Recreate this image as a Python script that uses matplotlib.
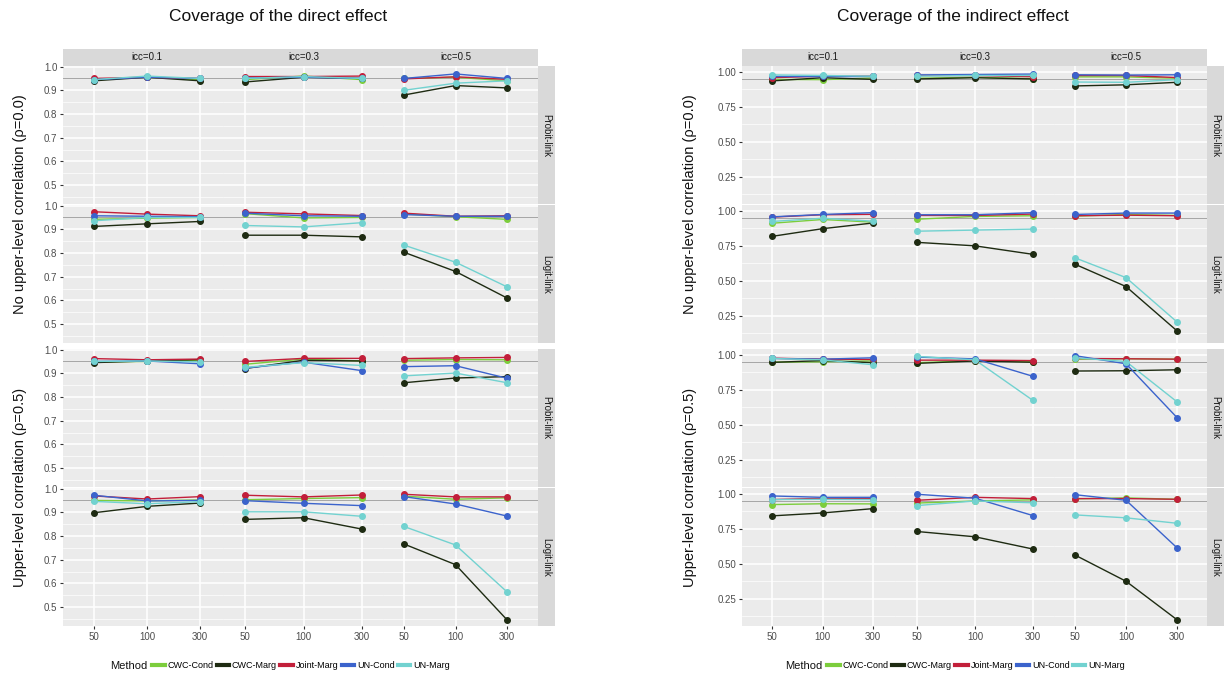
import matplotlib.pyplot as plt
from matplotlib.lines import Line2D
from matplotlib.ticker import FixedLocator

plt.rcParams['font.family'] = ['Liberation Sans', 'DejaVu Sans']

W, H = 1228, 681

methods = ['CWC-Cond', 'CWC-Marg', 'Joint-Marg', 'UN-Cond', 'UN-Marg']
method_colors = ['#7CCD3C', '#1E2B12', '#C21F3A', '#3B63CC', '#72D2D0']
sample_sizes = ['50', '100', '300']
icc_labels = ['icc=0.1', 'icc=0.3', 'icc=0.5']
link_labels = ['Probit-link', 'Logit-link']
rho_labels = ['No upper-level correlation (\u03c1=0.0)', 'Upper-level correlation (\u03c1=0.5)']

# coverage per method: icc=0.1 (n=50,100,300), icc=0.3 (n=50,100,300), icc=0.5 (n=50,100,300)
direct_rho0_probit = {
    'CWC-Cond':   [0.945, 0.955, 0.945, 0.945, 0.960, 0.945, 0.950, 0.955, 0.940],
    'CWC-Marg':   [0.940, 0.955, 0.940, 0.935, 0.955, 0.950, 0.880, 0.920, 0.910],
    'Joint-Marg': [0.950, 0.955, 0.950, 0.958, 0.958, 0.960, 0.948, 0.957, 0.946],
    'UN-Cond':    [0.945, 0.955, 0.950, 0.952, 0.955, 0.950, 0.950, 0.969, 0.950],
    'UN-Marg':    [0.945, 0.960, 0.950, 0.950, 0.958, 0.950, 0.900, 0.930, 0.940],
}
direct_rho0_logit = {
    'CWC-Cond':   [0.942, 0.947, 0.950, 0.966, 0.948, 0.950, 0.965, 0.953, 0.942],
    'CWC-Marg':   [0.912, 0.923, 0.933, 0.875, 0.875, 0.868, 0.803, 0.722, 0.610],
    'Joint-Marg': [0.974, 0.964, 0.957, 0.972, 0.965, 0.958, 0.968, 0.955, 0.957],
    'UN-Cond':    [0.957, 0.955, 0.953, 0.968, 0.957, 0.955, 0.962, 0.955, 0.955],
    'UN-Marg':    [0.936, 0.950, 0.950, 0.916, 0.910, 0.928, 0.833, 0.761, 0.657],
}
direct_rho5_probit = {
    'CWC-Cond':   [0.948, 0.950, 0.955, 0.938, 0.960, 0.952, 0.955, 0.958, 0.957],
    'CWC-Marg':   [0.945, 0.952, 0.958, 0.920, 0.955, 0.952, 0.860, 0.880, 0.886],
    'Joint-Marg': [0.962, 0.957, 0.960, 0.950, 0.963, 0.963, 0.962, 0.965, 0.967],
    'UN-Cond':    [0.950, 0.952, 0.940, 0.922, 0.947, 0.911, 0.928, 0.932, 0.879],
    'UN-Marg':    [0.950, 0.952, 0.948, 0.925, 0.945, 0.933, 0.889, 0.901, 0.860],
}
direct_rho5_logit = {
    'CWC-Cond':   [0.950, 0.948, 0.952, 0.953, 0.958, 0.962, 0.968, 0.955, 0.961],
    'CWC-Marg':   [0.898, 0.925, 0.939, 0.870, 0.877, 0.829, 0.766, 0.679, 0.446],
    'Joint-Marg': [0.969, 0.956, 0.966, 0.972, 0.965, 0.973, 0.976, 0.965, 0.965],
    'UN-Cond':    [0.972, 0.948, 0.950, 0.949, 0.938, 0.928, 0.966, 0.935, 0.884],
    'UN-Marg':    [0.946, 0.936, 0.945, 0.902, 0.902, 0.883, 0.840, 0.762, 0.564],
}
indirect_rho0_probit = {
    'CWC-Cond':   [0.947, 0.945, 0.957, 0.955, 0.962, 0.952, 0.965, 0.965, 0.955],
    'CWC-Marg':   [0.936, 0.959, 0.947, 0.950, 0.959, 0.950, 0.900, 0.908, 0.926],
    'Joint-Marg': [0.959, 0.970, 0.970, 0.975, 0.975, 0.966, 0.975, 0.975, 0.960],
    'UN-Cond':    [0.970, 0.970, 0.970, 0.979, 0.982, 0.985, 0.980, 0.978, 0.980],
    'UN-Marg':    [0.979, 0.975, 0.970, 0.970, 0.975, 0.975, 0.928, 0.926, 0.945],
}
indirect_rho0_logit = {
    'CWC-Cond':   [0.912, 0.939, 0.920, 0.941, 0.961, 0.966, 0.963, 0.975, 0.968],
    'CWC-Marg':   [0.818, 0.873, 0.914, 0.775, 0.750, 0.689, 0.618, 0.458, 0.140],
    'Joint-Marg': [0.956, 0.973, 0.976, 0.968, 0.968, 0.978, 0.966, 0.970, 0.966],
    'UN-Cond':    [0.958, 0.975, 0.988, 0.973, 0.973, 0.988, 0.975, 0.985, 0.985],
    'UN-Marg':    [0.925, 0.948, 0.927, 0.855, 0.863, 0.870, 0.664, 0.522, 0.204],
}
indirect_rho5_probit = {
    'CWC-Cond':   [0.949, 0.951, 0.958, 0.945, 0.958, 0.952, 0.970, 0.973, 0.970],
    'CWC-Marg':   [0.947, 0.960, 0.945, 0.940, 0.957, 0.948, 0.885, 0.887, 0.894],
    'Joint-Marg': [0.977, 0.970, 0.968, 0.963, 0.963, 0.960, 0.975, 0.973, 0.970],
    'UN-Cond':    [0.975, 0.970, 0.980, 0.985, 0.972, 0.847, 0.995, 0.937, 0.551],
    'UN-Marg':    [0.975, 0.965, 0.930, 0.990, 0.965, 0.674, 0.980, 0.953, 0.664],
}
indirect_rho5_logit = {
    'CWC-Cond':   [0.924, 0.930, 0.929, 0.935, 0.950, 0.958, 0.965, 0.972, 0.962],
    'CWC-Marg':   [0.843, 0.864, 0.895, 0.731, 0.693, 0.605, 0.562, 0.374, 0.098],
    'Joint-Marg': [0.960, 0.969, 0.967, 0.955, 0.976, 0.967, 0.967, 0.967, 0.962],
    'UN-Cond':    [0.986, 0.976, 0.976, 0.998, 0.970, 0.845, 0.995, 0.955, 0.614],
    'UN-Marg':    [0.960, 0.962, 0.960, 0.917, 0.950, 0.937, 0.850, 0.829, 0.790],
}

# layout in pixels
row_tops = [66, 205, 349, 488]
row_h = 138
strip_w = 17


def add_ax(fig, x0, x1, y0, y1):
    return fig.add_axes([x0 / W, 1 - y1 / H, (x1 - x0) / W, (y1 - y0) / H])


def draw_panel(fig, title, title_x, edges, pts, rows, ylim, major, minor, fmt, ylab_x, legend_x):
    fig.text(title_x / W, 1 - 17 / H, title, ha='center', va='center', fontsize=12.5, color='#111111')

    for c in range(3):
        p0, p2 = pts[c]
        u = (p2 - p0) / 2
        xlim = ((edges[c] - p0) / u, (edges[c + 1] - p0) / u)

        # top strips
        sax = add_ax(fig, edges[c], edges[c + 1], 49, 66)
        sax.set_facecolor('#D9D9D9')
        sax.set_xlim(xlim)
        sax.set_xticks([])
        sax.set_yticks([])
        for s in sax.spines.values():
            s.set_visible(False)
        sax.text(1, 0.5, icc_labels[c], transform=sax.get_xaxis_transform(),
                 ha='center', va='center', fontsize=7, color='#1A1A1A')

        for r, row in enumerate(rows):
            ax = add_ax(fig, edges[c], edges[c + 1], row_tops[r], row_tops[r] + row_h)
            ax.set_facecolor('#EBEBEB')
            ax.set_xlim(xlim)
            ax.set_ylim(ylim)
            for s in ax.spines.values():
                s.set_visible(False)
            ax.set_axisbelow(True)
            ax.set_xticks([0, 1, 2])
            ax.yaxis.set_major_locator(FixedLocator(major))
            ax.yaxis.set_minor_locator(FixedLocator(minor))
            ax.grid(which='major', color='white', lw=1.1)
            ax.grid(which='minor', axis='y', color='white', lw=0.5)
            ax.axhline(0.95, color='#A5A5A5', lw=0.7, zorder=1.5)

            for m, col in zip(methods, method_colors):
                vals = row[m][3 * c:3 * c + 3]
                ax.plot([0, 1, 2], vals, color=col, lw=1.0, zorder=3)
                ax.plot([0, 1, 2], vals, 'o', color=col, ms=4, zorder=4)

            ax.tick_params(axis='both', which='both', length=0)
            if c == 0:
                ax.set_yticklabels([fmt.format(v) for v in major])
                ax.tick_params(axis='y', which='major', length=2.5, color='#333333',
                               labelsize=7, labelcolor='#4D4D4D', pad=1.5)
            else:
                ax.tick_params(axis='y', labelleft=False)
            if r == 3:
                ax.set_xticklabels(sample_sizes)
                ax.tick_params(axis='x', length=2.5, color='#333333',
                               labelsize=7, labelcolor='#4D4D4D', pad=2)
            else:
                ax.tick_params(axis='x', labelbottom=False)

    # right strips
    for r in range(4):
        rax = add_ax(fig, edges[3], edges[3] + strip_w, row_tops[r], row_tops[r] + row_h)
        rax.set_facecolor('#D9D9D9')
        rax.set_xticks([])
        rax.set_yticks([])
        for s in rax.spines.values():
            s.set_visible(False)
        rax.text(0.5, 0.5, link_labels[r % 2], transform=rax.transAxes, rotation=-90,
                 ha='center', va='center', fontsize=7, color='#1A1A1A')

    # outer row labels
    for b in range(2):
        yc = (row_tops[2 * b] + row_tops[2 * b + 1] + row_h) / 2
        fig.text(ylab_x / W, 1 - yc / H, rho_labels[b], rotation=90,
                 ha='center', va='center', fontsize=10.5, color='#111111')

    # legend
    ly = 1 - 666 / H
    fig.text(legend_x / W, ly, 'Method', ha='left', va='center', fontsize=8, color='#111111')
    handles = [Line2D([], [], color=col, lw=3) for col in method_colors]
    fig.legend(handles, methods, loc='center left', bbox_to_anchor=((legend_x + 42) / W, ly),
               ncol=5, frameon=False, fontsize=6.5, handlelength=1.4, handletextpad=0.3,
               columnspacing=0.35, borderaxespad=0, borderpad=0)


fig = plt.figure(figsize=(W / 100, H / 100), dpi=100)
fig.patch.set_facecolor('white')

draw_panel(fig, 'Coverage of the direct effect', 278,
           [63, 222.5, 383, 538], [(94, 200), (245, 362), (404, 507)],
           [direct_rho0_probit, direct_rho0_logit, direct_rho5_probit, direct_rho5_logit],
           (0.42, 1.0025), [0.5, 0.6, 0.7, 0.8, 0.9, 1.0],
           [0.45, 0.55, 0.65, 0.75, 0.85, 0.95], '{:.1f}', 20, 110)

draw_panel(fig, 'Coverage of the indirect effect', 953,
           [742, 895, 1054, 1207], [(772, 873), (917, 1033), (1075, 1177)],
           [indirect_rho0_probit, indirect_rho0_logit, indirect_rho5_probit, indirect_rho5_logit],
           (0.053, 1.043), [0.25, 0.5, 0.75, 1.0],
           [0.125, 0.375, 0.625, 0.875], '{:.2f}', 690, 785)

fig.savefig('out.png', dpi=100)
